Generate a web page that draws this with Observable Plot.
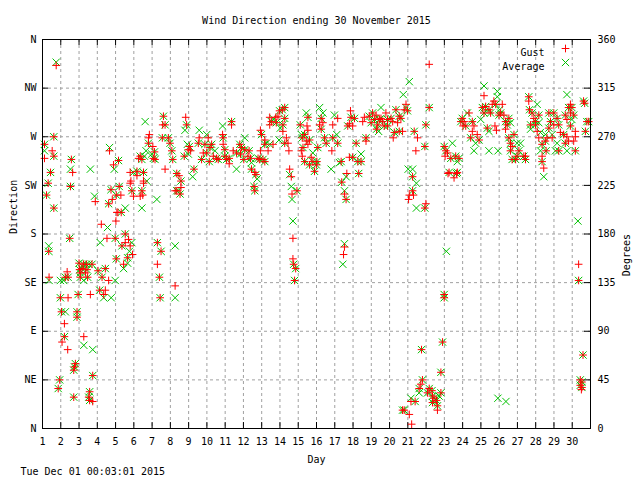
<!DOCTYPE html>
<html><head><meta charset="utf-8">
<script src="https://cdn.jsdelivr.net/npm/d3@7"></script>
<script src="https://cdn.jsdelivr.net/npm/@observablehq/plot@0.6"></script>
<style>body{margin:0;background:#fff}</style>
</head><body><div id="chart"></div>
<script>
const title = "Wind Direction ending 30 November 2015";
const stamp = "Tue Dec 01 00:03:01 2015";
const xLabel = "Day";
const yLabelLeft = "Direction";
const yLabelRight = "Degrees";
const seriesNames = ["Gust", "Average"];
const dayTicks = [1,2,3,4,5,6,7,8,9,10,11,12,13,14,15,16,17,18,19,20,21,22,23,24,25,26,27,28,29,30];
const degreeTicks = [0,45,90,135,180,225,270,315,360];
const compassLabels = ["N","NE","E","SE","S","SW","W","NW","N"];

// [day of month, direction in degrees]
const gust = [
[1.11,263],[1.11,250],[1.22,216],[1.31,227],[1.34,164],[1.36,140],[1.44,237],[1.53,257],[1.62,270],[1.62,252],[1.62,204],[1.75,336],
[1.86,37],[1.94,45],[1.98,121],[2.04,108],[2.07,80],[2.2,97],[2.2,85],[2.25,140],[2.35,145],[2.38,73],[2.4,140],[2.4,121],[2.49,176],[2.53,224],[2.58,249],[2.65,237],[2.71,54],[2.71,29],[2.75,57],[2.8,60],[2.89,108],[2.89,103],[2.95,124],
[3.0,153],[3.03,147],[3.07,144],[3.07,140],[3.16,148],[3.25,152],[3.26,85],[3.35,144],[3.4,152],[3.44,147],[3.47,140],[3.53,29],[3.58,34],[3.58,26],[3.62,124],[3.71,152],[3.75,49],[3.75,25],[3.89,210],
[4.04,146],[4.13,128],[4.22,189],[4.26,140],[4.35,124],[4.44,148],[4.44,128],[4.53,176],[4.62,208],[4.62,137],[4.67,257],[4.75,221],[4.82,212],[4.89,244],[4.98,176],
[5.02,192],[5.04,216],[5.04,157],[5.07,200],[5.13,200],[5.16,248],[5.2,224],[5.29,216],[5.31,200],[5.35,169],[5.44,152],[5.53,180],[5.53,172],[5.66,158],[5.71,175],[5.8,227],[5.8,169],[5.8,237],[5.84,229],[5.89,220],[5.93,161],[5.98,215],
[6.17,238],[6.17,234],[6.26,250],[6.35,252],[6.35,215],[6.44,220],[6.44,249],[6.49,216],[6.53,227],[6.53,237],[6.53,229],[6.8,269],[6.8,264],[6.85,272],
[7.04,261],[7.07,250],[7.13,256],[7.16,249],[7.29,172],[7.29,152],[7.4,140],[7.44,121],[7.49,164],[7.56,269],[7.58,281],[7.62,289],[7.71,281],[7.71,240],[7.89,269],[7.98,264],
[8.08,257],[8.13,249],[8.26,132],[8.26,220],[8.35,236],[8.35,220],[8.47,234],[8.53,217],[8.58,229],[8.58,223],[8.76,252],[8.84,288],[8.89,281],[8.98,258],
[9.04,261],[9.11,257],[9.29,240],[9.53,264],[9.58,269],[9.71,249],[9.8,255],[9.89,263],[9.99,255],
[10.07,269],[10.13,247],[10.17,260],[10.26,263],[10.35,252],[10.53,250],[10.62,249],[10.86,272],[10.89,269],[10.89,263],[10.98,258],[10.98,252],
[11.08,249],[11.22,245],[11.22,250],[11.35,284],[11.35,281],[11.44,257],[11.62,255],[11.8,263],[11.84,254],[11.89,260],
[12.02,249],[12.07,258],[12.25,252],[12.31,257],[12.39,250],[12.44,240],[12.58,224],[12.62,220],[12.62,237],[12.68,235],[12.8,250],[12.89,249],[12.93,257],[12.93,276],[12.99,272],
[13.07,249],[13.17,267],[13.17,263],[13.17,247],[13.35,257],[13.44,288],[13.44,281],[13.53,284],[13.62,263],[13.77,288],[13.8,283],[13.89,289],[13.98,294],
[14.13,295],[14.16,281],[14.16,275],[14.26,297],[14.26,287],[14.26,264],[14.35,269],[14.44,264],[14.49,257],[14.53,240],[14.62,233],[14.66,217],[14.71,176],[14.71,157],[14.75,152],[14.8,137],[14.86,148],[14.93,220],
[15.11,281],[15.17,257],[15.22,269],[15.22,252],[15.26,260],[15.35,272],[15.35,247],[15.44,266],[15.48,280],[15.53,288],[15.53,276],[15.53,263],[15.62,267],[15.62,244],[15.71,251],[15.8,247],[15.89,238],[15.99,244],
[16.02,247],[16.07,260],[16.17,281],[16.26,287],[16.26,277],[16.35,283],[16.44,269],[16.53,264],[16.84,257],[16.89,269],[16.89,281],
[17.16,287],[17.16,264],[17.35,247],[17.38,228],[17.48,161],[17.53,217],[17.53,168],[17.62,212],[17.66,236],[17.71,280],[17.8,282],[17.8,251],[17.86,294],[17.89,288],[17.98,280],[17.98,251],
[18.08,287],[18.17,264],[18.26,247],[18.31,236],[18.44,247],[18.53,284],[18.62,288],[18.71,269],[18.71,266],[18.89,289],[18.99,283],
[19.07,292],[19.17,286],[19.26,290],[19.29,277],[19.35,281],[19.44,286],[19.53,287],[19.62,284],[19.71,280],[19.8,292],[19.89,286],[19.89,280],
[20.08,287],[20.17,284],[20.2,269],[20.26,274],[20.35,295],[20.44,283],[20.53,289],[20.53,275],[20.62,287],[20.71,275],[20.71,17],[20.8,295],[20.8,17],[20.9,300],[20.98,294],
[21.04,212],[21.08,216],[21.08,13],[21.17,25],[21.21,4],[21.26,233],[21.26,220],[21.31,216],[21.35,275],[21.4,25],[21.44,257],[21.53,269],[21.62,37],[21.71,41],[21.75,73],[21.8,45],[21.93,204],[21.93,261],[21.99,208],[21.99,281],
[22.08,33],[22.17,297],[22.17,337],[22.17,37],[22.32,35],[22.35,30],[22.35,24],[22.44,28],[22.57,26],[22.62,21],[22.62,17],[22.81,33],[22.81,52],[22.9,80],[22.99,124],[22.99,121],[22.99,261],
[23.04,252],[23.08,257],[23.17,255],[23.2,236],[23.26,237],[23.35,250],[23.53,232],[23.62,252],[23.66,236],[23.71,237],[23.8,250],[23.9,284],[23.98,287],
[24.02,280],[24.08,284],[24.17,280],[24.35,292],[24.44,269],[24.53,284],[24.53,275],[24.62,280],[24.8,272],[24.9,267],
[25.08,297],[25.17,292],[25.17,308],[25.26,298],[25.35,278],[25.44,295],[25.53,292],[25.62,300],[25.71,303],[25.77,280],[25.81,300],[25.85,276],[25.99,290],
[26.08,292],[26.17,300],[26.26,290],[26.35,284],[26.35,277],[26.44,281],[26.53,287],[26.53,269],[26.62,264],[26.62,257],[26.71,261],[26.71,249],[26.81,272],[26.9,249],[26.98,252],
[27.08,257],[27.35,252],[27.44,249],[27.44,252],[27.62,307],[27.62,303],[27.66,295],[27.72,281],[27.8,292],[27.9,287],[27.99,284],[27.99,281],
[28.08,275],[28.17,290],[28.17,269],[28.35,263],[28.35,252],[28.35,247],[28.44,241],[28.53,266],[28.57,257],[28.62,269],[28.72,278],[28.72,292],[28.81,284],[28.9,269],[28.99,292],[28.99,281],
[29.17,287],[29.26,281],[29.26,257],[29.35,274],[29.53,272],[29.62,264],[29.62,290],[29.71,270],[29.71,286],[29.8,297],[29.8,266],[29.9,300],[29.9,292],[29.9,280],[29.98,297],
[30.08,290],[30.08,266],[30.17,257],[30.17,270],[30.17,275],[30.35,152],[30.35,137],[30.44,45],[30.44,40],[30.5,36],[30.53,43],[30.53,38],[30.59,68],[30.62,303],[30.68,301],[30.72,275],[30.8,284],[30.9,284]
];

const average = [
[1.11,263],[1.11,257],[1.22,216],[1.31,227],[1.34,164],[1.34,169],[1.36,137],[1.44,237],[1.62,270],[1.62,252],[1.62,204],[1.75,339],
[1.86,37],[1.94,45],[1.98,121],[1.98,137],[2.04,108],[2.16,137],[2.2,85],[2.25,140],[2.25,108],[2.4,140],[2.49,176],[2.53,224],[2.53,240],[2.58,249],[2.71,54],[2.71,29],[2.75,57],[2.8,60],[2.89,108],[2.89,103],[2.95,124],
[3.0,153],[3.03,147],[3.07,144],[3.07,140],[3.16,148],[3.25,152],[3.26,77],[3.26,137],[3.4,152],[3.44,147],[3.47,140],[3.53,152],[3.53,29],[3.58,34],[3.58,26],[3.62,240],[3.71,152],[3.75,73],[3.75,49],[3.85,215],
[4.04,146],[4.13,128],[4.16,172],[4.26,140],[4.35,121],[4.44,148],[4.56,186],[4.62,208],[4.67,260],[4.75,221],[4.76,121],[4.93,240],[4.98,176],[4.98,137],
[5.04,216],[5.04,157],[5.16,248],[5.2,224],[5.31,200],[5.35,169],[5.44,148],[5.53,204],[5.53,180],[5.66,158],[5.66,153],[5.76,164],[5.89,220],[5.89,172],[5.98,237],
[6.17,238],[6.35,252],[6.44,220],[6.44,249],[6.44,204],[6.53,237],[6.58,252],[6.62,284],[6.67,257],[6.71,229],[6.8,264],[6.98,254],
[7.07,250],[7.13,256],[7.16,249],[7.26,212],[7.29,172],[7.4,140],[7.44,121],[7.49,164],[7.56,269],[7.62,289],[7.71,281],[7.89,269],[7.98,264],
[8.08,257],[8.13,249],[8.26,121],[8.26,169],[8.35,236],[8.35,220],[8.44,220],[8.53,217],[8.58,229],[8.76,252],[8.8,276],[8.89,281],[8.93,263],[8.98,254],
[9.04,261],[9.22,233],[9.29,240],[9.53,264],[9.58,276],[9.71,249],[9.89,263],[9.99,272],[9.99,255],
[10.13,247],[10.17,260],[10.26,263],[10.44,257],[10.53,250],[10.62,249],[10.86,280],[10.89,269],[10.98,258],[10.98,252],
[11.08,249],[11.22,250],[11.35,284],[11.62,255],[11.62,240],[11.8,263],[11.84,254],[11.89,260],
[12.02,249],[12.07,258],[12.07,269],[12.31,257],[12.39,250],[12.44,246],[12.44,240],[12.58,224],[12.62,220],[12.68,235],[12.75,231],[12.8,250],[12.89,249],[12.99,272],
[13.07,249],[13.17,263],[13.17,247],[13.26,264],[13.44,263],[13.53,284],[13.62,287],[13.8,283],[13.95,267],[13.98,294],
[14.02,278],[14.13,295],[14.16,281],[14.26,297],[14.26,287],[14.26,264],[14.53,235],[14.62,224],[14.66,212],[14.71,192],[14.75,152],[14.8,137],[14.86,148],[14.93,220],
[15.11,281],[15.17,272],[15.22,269],[15.26,260],[15.35,272],[15.35,247],[15.44,292],[15.53,288],[15.62,267],[15.62,244],[15.8,247],[15.8,255],[15.89,238],[15.99,244],
[16.02,247],[16.07,260],[16.17,297],[16.26,287],[16.26,277],[16.35,292],[16.44,269],[16.53,264],[16.8,240],[16.89,269],[16.98,290],
[17.11,272],[17.16,264],[17.26,246],[17.35,247],[17.38,228],[17.44,152],[17.53,220],[17.53,171],[17.62,212],[17.62,233],[17.71,280],[17.89,288],[17.98,251],
[18.08,287],[18.17,264],[18.26,247],[18.31,236],[18.44,247],[18.44,254],[18.71,269],[18.89,289],[18.99,283],
[19.07,292],[19.17,286],[19.29,277],[19.35,281],[19.4,275],[19.44,286],[19.53,287],[19.53,297],[19.71,280],[19.89,286],[19.89,280],
[20.08,287],[20.26,274],[20.35,295],[20.53,289],[20.53,275],[20.62,287],[20.71,17],[20.75,309],[20.8,17],[20.9,297],[20.98,294],
[21.02,240],[21.08,321],[21.17,28],[21.26,240],[21.26,233],[21.26,220],[21.35,275],[21.4,25],[21.47,227],[21.47,204],[21.62,37],[21.62,33],[21.75,73],[21.8,45],[21.93,204],[21.93,261],[21.99,281],
[22.08,33],[22.17,297],[22.17,37],[22.32,35],[22.35,30],[22.35,24],[22.44,28],[22.57,26],[22.62,21],[22.71,30],[22.81,33],[22.81,52],[22.9,80],[22.99,124],[22.99,121],[22.99,261],
[23.08,257],[23.11,164],[23.26,237],[23.35,250],[23.44,264],[23.62,252],[23.66,236],[23.71,247],[23.71,237],[23.8,250],[23.9,284],[23.98,287],
[24.17,280],[24.26,292],[24.44,269],[24.53,284],[24.62,257],[24.71,264],[24.9,267],[24.99,286],
[25.08,297],[25.17,292],[25.17,317],[25.26,298],[25.35,278],[25.44,295],[25.44,275],[25.44,257],[25.53,292],[25.81,300],[25.9,307],[25.9,312],[25.93,28],[25.94,257],[25.99,290],
[26.02,295],[26.08,292],[26.35,284],[26.37,25],[26.44,281],[26.53,287],[26.53,269],[26.62,283],[26.62,264],[26.62,257],[26.71,249],[26.81,272],[26.9,249],[26.98,264],[26.98,252],
[27.08,257],[27.17,264],[27.35,252],[27.44,249],[27.62,307],[27.66,295],[27.72,281],[27.72,277],[27.8,292],[27.99,284],[27.99,281],
[28.08,300],[28.17,290],[28.17,283],[28.26,274],[28.26,257],[28.35,263],[28.35,247],[28.44,233],[28.53,266],[28.53,272],[28.57,257],[28.72,278],[28.72,292],[28.81,284],[28.9,272],[28.99,292],
[29.08,257],[29.17,287],[29.17,264],[29.26,281],[29.26,257],[29.53,272],[29.62,264],[29.62,290],[29.71,309],[29.71,257],[29.8,297],[29.9,280],[29.98,297],[29.98,286],
[30.08,290],[30.17,257],[30.31,192],[30.35,137],[30.44,45],[30.44,40],[30.53,43],[30.53,38],[30.59,68],[30.62,303],[30.68,301],[30.72,275],[30.8,284],[30.9,284]
];

const gustColor = "#ff0000";
const avgColor = "#00c000";
const gridColor = "#a0a0a0";
const font = "'DejaVu Sans Mono', monospace";

const W = 640, H = 480, mT = 39, mB = 52, mL = 42, mR = 50;
const frameH = H - mT - mB, frameW = W - mL - mR, tick = 6;
const plusR = 2.6, timesR = 3.4;

const chart = Plot.plot({
  width: W, height: H,
  marginTop: mT, marginBottom: mB, marginLeft: mL, marginRight: mR,
  style: `font-family:${font};font-size:10px;background:#fff;color:#000;`,
  x: {domain: [1, 31], label: null},
  y: {domain: [0, 360], label: null},
  marks: [
    Plot.gridX(dayTicks.slice(1), {stroke: gridColor, strokeOpacity: 1, strokeDasharray: "3,3"}),
    Plot.gridY(degreeTicks.slice(1, -1), {stroke: gridColor, strokeOpacity: 1, strokeDasharray: "3,3"}),
    Plot.tickX(dayTicks, {x: d => d, insetTop: frameH - tick, stroke: "#000"}),
    Plot.tickX(dayTicks, {x: d => d, insetBottom: frameH - tick, stroke: "#000"}),
    Plot.tickY(degreeTicks, {y: d => d, insetRight: frameW - tick, stroke: "#000"}),
    Plot.tickY(degreeTicks, {y: d => d, insetLeft: frameW - tick, stroke: "#000"}),
    Plot.axisX(dayTicks, {anchor: "bottom", tickSize: 0, tickPadding: 9, label: null}),
    Plot.axisY(degreeTicks, {anchor: "left", tickSize: 0, tickPadding: 6, label: null,
      tickFormat: d => compassLabels[degreeTicks.indexOf(d)]}),
    Plot.axisY(degreeTicks, {anchor: "right", tickSize: 0, tickPadding: 7, label: null, tickFormat: d => String(d)}),
    Plot.dot(average, {x: d => d[0], y: d => d[1], symbol: "times", stroke: avgColor, strokeWidth: 1, r: timesR}),
    Plot.dot(gust, {x: d => d[0], y: d => d[1], symbol: "plus", stroke: gustColor, strokeWidth: 1, r: plusR}),
    Plot.frame({stroke: "#000", strokeWidth: 1}),
    Plot.text([title], {frameAnchor: "top", dy: -23, fontSize: 10}),
    Plot.text([xLabel], {frameAnchor: "bottom", dy: 34, fontSize: 10}),
    Plot.text([stamp], {frameAnchor: "bottom-left", dx: -22, dy: 46, textAnchor: "start", fontSize: 10}),
    Plot.text([yLabelLeft], {frameAnchor: "left", dx: -29, rotate: -90, fontSize: 10}),
    Plot.text([yLabelRight], {frameAnchor: "right", dx: 36, rotate: -90, fontSize: 10}),
    Plot.text([seriesNames[0]], {frameAnchor: "top-right", dx: -46, dy: 9, textAnchor: "end", fontSize: 10}),
    Plot.text([seriesNames[1]], {frameAnchor: "top-right", dx: -46, dy: 23, textAnchor: "end", fontSize: 10}),
    Plot.dot([seriesNames[0]], {frameAnchor: "top-right", dx: -25, dy: 9, symbol: "plus", stroke: gustColor, strokeWidth: 1, r: plusR}),
    Plot.dot([seriesNames[1]], {frameAnchor: "top-right", dx: -25, dy: 23, symbol: "times", stroke: avgColor, strokeWidth: 1, r: timesR})
  ]
});
document.getElementById("chart").appendChild(chart);
</script>
</body></html>
